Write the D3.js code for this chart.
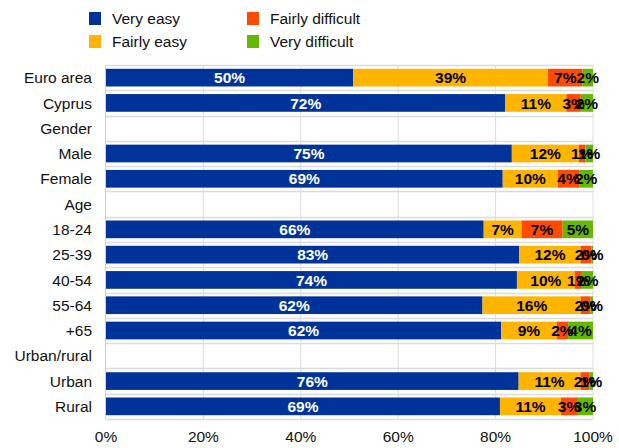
<!DOCTYPE html>
<html>
<head>
<meta charset="utf-8">
<script src="https://cdn.jsdelivr.net/npm/d3@7"></script>
<style>
  body { margin: 0; background: #fff; }
  text { font-family: "Liberation Sans", Arial, sans-serif; }
</style>
</head>
<body>
<div id="container"></div>
<script>
/* CONSTANTS AND GLOBALS */
const width = 619;
const height = 448;
const margin = { top: 65, right: 26, bottom: 29, left: 106 };

// DATA - header rows (Gender, Age, Urban/rural) have no bar
const categories = ["Euro area", "Cyprus", "Gender", "Male", "Female", "Age", "18-24", "25-39",
  "40-54", "55-64", "+65", "Urban/rural", "Urban", "Rural"];
const seriesNames = ["Very easy", "Fairly easy", "Fairly difficult", "Very difficult"];
const veryEasy        = [50, 72, null, 75, 69, null, 66, 83, 74, 62, 62, null, 76, 69];
const fairlyEasy      = [39.4, 11, null, 12.4, 9.6, null, 6.6, 12.3, 10.4, 16.2, 8.7, null, 11.4, 10.7];
const fairlyDifficult = [7, 2.6, null, 1.2, 3.7, null, 7.2, 2.2, 1.3, 1.6, 1.8, null, 1.6, 2.8];
const veryDifficult   = [2.1, 2.2, null, 1.4, 2.4, null, 5.3, 0.3, 2.0, 0.4, 3.9, null, 0.7, 2.8];
const xTicks = [0, 20, 40, 60, 80, 100];

const colors = ["#003399", "#FFB400", "#FF4B00", "#65B800"];
const labelColors = ["#ffffff", "#000000", "#000000", "#000000"];

// build rows, each normalised to 100%
const rows = categories.map((c, i) => {
  const vals = [veryEasy[i], fairlyEasy[i], fairlyDifficult[i], veryDifficult[i]];
  if (vals[0] === null) return { cat: c, segs: [] };
  const total = d3.sum(vals);
  let acc = 0;
  const segs = vals.map((v, k) => {
    const s = { key: k, value: v, x0: acc / total * 100, x1: (acc + v) / total * 100 };
    acc += v;
    return s;
  });
  return { cat: c, segs };
});

// CREATE SVG
const svg = d3.select("#container")
  .append("svg")
  .attr("width", width)
  .attr("height", height);

// SCALES
const xScale = d3.scaleLinear()
  .domain([0, 100])
  .range([margin.left, width - margin.right]);

const yScale = d3.scaleBand()
  .domain(categories)
  .range([margin.top, height - margin.bottom])
  .paddingInner(0.3)
  .paddingOuter(0.15);

const step = yScale.step();

// GRIDLINES
svg.append("g")
  .selectAll("line.vgrid")
  .data(xTicks.slice(1))
  .join("line")
  .attr("class", "vgrid")
  .attr("x1", d => xScale(d))
  .attr("x2", d => xScale(d))
  .attr("y1", margin.top)
  .attr("y2", height - margin.bottom)
  .attr("stroke", "#dcdcdc")
  .attr("stroke-width", 1);

svg.append("g")
  .selectAll("line.hgrid")
  .data(d3.range(categories.length + 1))
  .join("line")
  .attr("class", "hgrid")
  .attr("x1", margin.left)
  .attr("x2", width - margin.right)
  .attr("y1", i => Math.round(margin.top + i * step) + 0.5)
  .attr("y2", i => Math.round(margin.top + i * step) + 0.5)
  .attr("stroke", "#dcdcdc")
  .attr("stroke-width", 1.5);

// left axis line
svg.append("line")
  .attr("x1", margin.left - 0.5)
  .attr("x2", margin.left - 0.5)
  .attr("y1", margin.top)
  .attr("y2", height - margin.bottom)
  .attr("stroke", "#cfcfcf");

// BARS
const rowG = svg.selectAll("g.row")
  .data(rows)
  .join("g")
  .attr("class", "row");

rowG.selectAll("rect")
  .data(d => d.segs.map(s => ({ ...s, cat: d.cat })))
  .join("rect")
  .attr("x", d => xScale(d.x0))
  .attr("y", d => yScale(d.cat))
  .attr("width", d => xScale(d.x1) - xScale(d.x0))
  .attr("height", yScale.bandwidth())
  .attr("fill", d => colors[d.key]);

// VALUE LABELS
rowG.selectAll("text")
  .data(d => d.segs.map(s => ({ ...s, cat: d.cat })))
  .join("text")
  .attr("x", d => (xScale(d.x0) + xScale(d.x1)) / 2)
  .attr("y", d => yScale(d.cat) + yScale.bandwidth() / 2)
  .attr("dy", "0.36em")
  .attr("text-anchor", "middle")
  .style("font-size", "15.5px")
  .style("font-weight", "bold")
  .attr("fill", d => labelColors[d.key])
  .text(d => Math.round(d.value) + "%");

// CATEGORY LABELS
svg.append("g")
  .selectAll("text")
  .data(categories)
  .join("text")
  .attr("x", margin.left - 14)
  .attr("y", d => yScale(d) + yScale.bandwidth() / 2)
  .attr("dy", "0.36em")
  .attr("text-anchor", "end")
  .style("font-size", "15.5px")
  .attr("fill", "#111")
  .text(d => d);

// X AXIS LABELS
svg.append("g")
  .selectAll("text")
  .data(xTicks)
  .join("text")
  .attr("x", d => xScale(d))
  .attr("y", height - 6)
  .attr("text-anchor", "middle")
  .style("font-size", "15.5px")
  .attr("fill", "#111")
  .text(d => d + "%");

// LEGEND
const legendPos = [[89, 12], [89, 35], [247, 12], [247, 35]];
const legendOrder = [0, 1, 2, 3];
const legend = svg.append("g")
  .selectAll("g")
  .data(legendOrder)
  .join("g")
  .attr("transform", k => `translate(${legendPos[k][0]},${legendPos[k][1]})`);

legend.append("rect")
  .attr("width", 12)
  .attr("height", 13)
  .attr("fill", k => colors[k]);

legend.append("text")
  .attr("x", 23)
  .attr("y", 6.5)
  .attr("dy", "0.36em")
  .style("font-size", "15.5px")
  .attr("fill", "#111")
  .text(k => seriesNames[k]);
</script>
</body>
</html>
